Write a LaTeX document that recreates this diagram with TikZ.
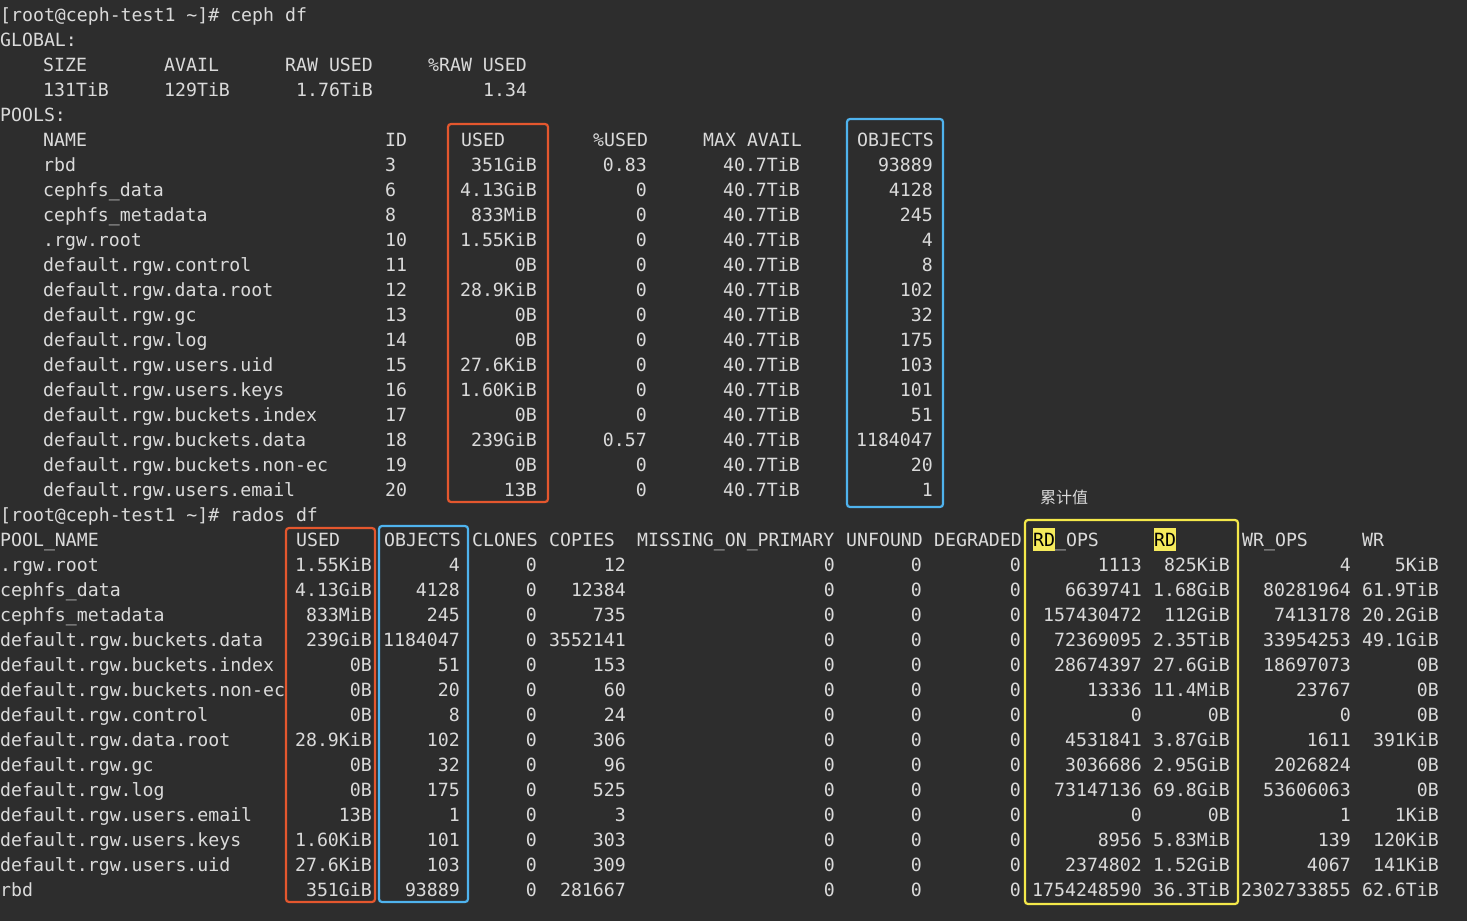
\documentclass[tikz,border=0pt]{standalone}
\usepackage{fontspec}
\newfontfamily\mono{DejaVu Sans Mono}
\newfontfamily\cjk{Noto Sans CJK SC}
\definecolor{bg}{HTML}{2D2D2D}
\definecolor{fg}{HTML}{DADADA}
\definecolor{obox}{HTML}{E4572E}
\definecolor{bbox}{HTML}{4FB3EE}
\definecolor{ybox}{HTML}{F4E84A}
\begin{document}
\begin{tikzpicture}[x=1pt,y=-1pt,
  t/.style={anchor=base west,inner sep=0pt,yshift=-1pt,text=fg,font=\mono\fontsize{18.2}{20}\selectfont},
  r/.style={anchor=base east,inner sep=0pt,yshift=-1pt,text=fg,font=\mono\fontsize{18.2}{20}\selectfont},
  frame/.style={draw,line width=2.2pt,rounded corners=3pt}]
\fill[bg] (0,0) rectangle (1467,921);
\useasboundingbox (0,0) rectangle (1467,921);
% header lines
\node[t] (l1) at (0,20) {[root@ceph-test1 \textasciitilde]\# ceph df};
\node[t] (l2) at (0,45) {GLOBAL:};
\node[t] (g1) at (43,70) {SIZE};
\node[t] (g2) at (164,70) {AVAIL};
\node[t] (g3) at (285,70) {RAW USED};
\node[t] (g4) at (428,70) {\%RAW USED};
\node[t] (g5) at (43,95) {131TiB};
\node[t] (g6) at (164,95) {129TiB};
\node[t] (g7) at (296,95) {1.76TiB};
\node[t] (g8) at (483,95) {1.34};
\node[t] (l3) at (0,120) {POOLS:};
\node[t] (h1) at (43,145) {NAME};
\node[t] (h2) at (385,145) {ID};
\node[t] (h3) at (461,145) {USED};
\node[t] (h4) at (593,145) {\%USED};
\node[t] (h5) at (703,145) {MAX AVAIL};
\node[t] (h6) at (857,145) {OBJECTS};
\foreach \n/\id/\u/\p/\o [count=\i] in {
 rbd/3/351GiB/0.83/93889,
 cephfs\_data/6/4.13GiB/0/4128,
 cephfs\_metadata/8/833MiB/0/245,
 .rgw.root/10/1.55KiB/0/4,
 default.rgw.control/11/0B/0/8,
 default.rgw.data.root/12/28.9KiB/0/102,
 default.rgw.gc/13/0B/0/32,
 default.rgw.log/14/0B/0/175,
 default.rgw.users.uid/15/27.6KiB/0/103,
 default.rgw.users.keys/16/1.60KiB/0/101,
 default.rgw.buckets.index/17/0B/0/51,
 default.rgw.buckets.data/18/239GiB/0.57/1184047,
 default.rgw.buckets.non-ec/19/0B/0/20,
 default.rgw.users.email/20/13B/0/1}{
 \pgfmathsetmacro\yy{170+25*(\i-1)}
 \node[t] (pn\i) at (43,\yy) {\n};
 \node[t] (pi\i) at (385,\yy) {\id};
 \node[r] (pu\i) at (537,\yy) {\u};
 \node[r] (pp\i) at (647,\yy) {\p};
 \node[r] (pm\i) at (800,\yy) {40.7TiB};
 \node[r] (po\i) at (933,\yy) {\o};
}
\node[t] (l4) at (0,520) {[root@ceph-test1 \textasciitilde]\# rados df};
\node[anchor=base west,inner sep=0pt,text=fg,font=\cjk\fontsize{16}{18}\selectfont] (lj) at (1040,503) {累计值};
% highlights
\fill[ybox!90!white] (1033,528) rectangle (1055,551);
\fill[ybox!90!white] (1154,528) rectangle (1176,551);
\node[t] (r1) at (0,545) {POOL\_NAME};
\node[t] (r2) at (296,545) {USED};
\node[t] (r3) at (384,545) {OBJECTS};
\node[t] (r4) at (472,545) {CLONES};
\node[t] (r5) at (549,545) {COPIES};
\node[t] (r6) at (637,545) {MISSING\_ON\_PRIMARY};
\node[t] (r7) at (846,545) {UNFOUND};
\node[t] (r8) at (934,545) {DEGRADED};
\node[t,text=black] (r9) at (1033,545) {RD};
\node[t] (r9b) at (1054.9,545) {\_OPS};
\node[t,text=black] (r10) at (1154,545) {RD};
\node[t] (r11) at (1242,545) {WR\_OPS};
\node[t] (r12) at (1362,545) {WR};
\foreach \n/\u/\o/\cp/\ro/\rd/\wo/\w [count=\i] in {
 .rgw.root/1.55KiB/4/12/1113/825KiB/4/5KiB,
 cephfs\_data/4.13GiB/4128/12384/6639741/1.68GiB/80281964/61.9TiB,
 cephfs\_metadata/833MiB/245/735/157430472/112GiB/7413178/20.2GiB,
 default.rgw.buckets.data/239GiB/1184047/3552141/72369095/2.35TiB/33954253/49.1GiB,
 default.rgw.buckets.index/0B/51/153/28674397/27.6GiB/18697073/0B,
 default.rgw.buckets.non-ec/0B/20/60/13336/11.4MiB/23767/0B,
 default.rgw.control/0B/8/24/0/0B/0/0B,
 default.rgw.data.root/28.9KiB/102/306/4531841/3.87GiB/1611/391KiB,
 default.rgw.gc/0B/32/96/3036686/2.95GiB/2026824/0B,
 default.rgw.log/0B/175/525/73147136/69.8GiB/53606063/0B,
 default.rgw.users.email/13B/1/3/0/0B/1/1KiB,
 default.rgw.users.keys/1.60KiB/101/303/8956/5.83MiB/139/120KiB,
 default.rgw.users.uid/27.6KiB/103/309/2374802/1.52GiB/4067/141KiB,
 rbd/351GiB/93889/281667/1754248590/36.3TiB/2302733855/62.6TiB}{
 \pgfmathsetmacro\yy{570+25*(\i-1)}
 \node[t] (qn\i) at (0,\yy) {\n};
 \node[r] (qu\i) at (372,\yy) {\u};
 \node[r] (qo\i) at (460,\yy) {\o};
 \node[r] (qc\i) at (537,\yy) {0};
 \node[r] (qp\i) at (626,\yy) {\cp};
 \node[r] (qm\i) at (835,\yy) {0};
 \node[r] (qf\i) at (922,\yy) {0};
 \node[r] (qd\i) at (1021,\yy) {0};
 \node[r] (qr\i) at (1142,\yy) {\ro};
 \node[r] (qb\i) at (1230,\yy) {\rd};
 \node[r] (qw\i) at (1351,\yy) {\wo};
 \node[r] (qx\i) at (1439,\yy) {\w};
}
% frames
\draw[frame,obox] (448,124) rectangle (548,502);
\draw[frame,bbox] (847,119) rectangle (943,507);
\draw[frame,obox] (286,528) rectangle (375,902);
\draw[frame,bbox] (379,526) rectangle (468,902);
\draw[frame,ybox] (1025,520) rectangle (1238,904);
\end{tikzpicture}
\end{document}
